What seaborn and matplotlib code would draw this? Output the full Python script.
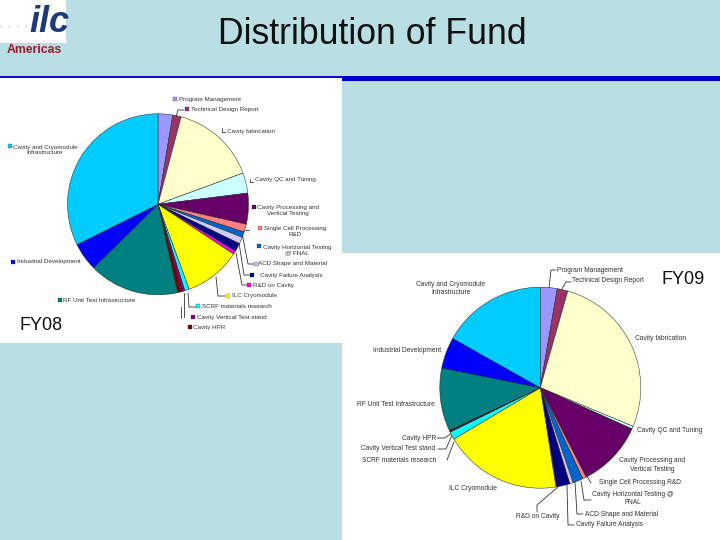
import matplotlib
matplotlib.use("Agg")
import matplotlib.pyplot as plt
from matplotlib.patches import Rectangle
import seaborn as sns

sns.set_theme(style="white")
plt.rcParams['font.family'] = ['Liberation Sans', 'DejaVu Sans']

categories08 = ["Program Management", "Technical Design Report", "Cavity fabrication",
                "Cavity QC and Tuning", "Cavity Processing and\nVertical Testing",
                "Single Cell Processing\nR&D", "Cavity Horizontal Testing\n@ FNAL",
                "ACD Shape and Material", "Cavity Failure Analysis", "R&D on Cavity",
                "ILC Cryomodule", "SCRF materials research", "Cavity Vertical Test stand",
                "Cavity HPR", "RF Unit Test Infrastructure", "Industrial Development",
                "Cavity and Cryomodule\nInfrastructure"]
categories09 = ["Program Management", "Technical Design Report", "Cavity fabrication",
                "Cavity QC and Tuning", "Cavity Processing and\nVertical Testing",
                "Single Cell Processing R&D", "Cavity Horizontal Testing @\nFNAL",
                "ACD Shape and Material", "Cavity Failure Analysis", "R&D on Cavity",
                "ILC Cryomodule", "SCRF materials research", "Cavity Vertical Test stand",
                "Cavity HPR", "RF Unit Test Infrastructure", "Industrial Development",
                "Cavity and Cryomodule\nInfrastructure"]
fy08 = [2.6, 1.5, 15.2, 3.6, 5.5, 1.4, 1.0, 1.2, 1.5, 0.6, 10.1, 0.8, 0.5, 0.8, 16.0, 5.0, 32.2]
fy09 = [2.7, 1.7, 26.8, 0.45, 10.7, 0.6, 1.65, 0.55, 2.15, 0.1, 18.9, 1.25, 0.1, 0.2, 10.1, 5.0, 16.8]
colors = ["#9999FF", "#993366", "#FFFFCC", "#CCFFFF", "#660066", "#FF8080", "#0066CC",
          "#CCCCFF", "#000080", "#FF00FF", "#FFFF00", "#00FFFF", "#800080", "#800000",
          "#008080", "#0000FF", "#00CCFF"]
palette = sns.color_palette(colors)

W, H = 720, 540
BG = "#B9DEE3"
fig = plt.figure(figsize=(W/100, H/100), dpi=100, facecolor=BG)
page = fig.add_axes([0, 0, 1, 1])
page.set_xlim(0, W); page.set_ylim(H, 0); page.axis("off")
page.add_patch(Rectangle((0, 78), 342, 265, fc="white", ec="none"))
page.add_patch(Rectangle((342, 252.5), 378, 288, fc="white", ec="none"))
page.add_patch(Rectangle((0, 0), 66, 43, fc="white", ec="none"))
page.add_patch(Rectangle((0, 76), 342, 2, fc="#0808C8", ec="none"))
page.add_patch(Rectangle((342, 76), 378, 5, fc="#0000D0", ec="none"))

page.text(372, 34.5, "Distribution of Fund", fontsize=25.7, color="#111111", ha="center", va="center")
page.text(34.5, 50, "Americas", fontsize=8.8, color="#A01828", ha="center", va="center", fontweight="bold")
page.text(49, 23, "ilc", fontsize=26, color="#1F3A78", ha="center", va="center",
          fontweight="bold", style="italic")
page.plot([0, 32], [25.5, 25.5], color="#C8C890", lw=1, ls=(0, (1, 5)))
page.text(41, 326, "FY08", fontsize=13, color="#111111", ha="center", va="center")
page.text(683, 279, "FY09", fontsize=13, color="#111111", ha="center", va="center")


def pie(values, cx, cy, r):
    ax = fig.add_axes([(cx - r) / W, 1 - (cy + r) / H, 2 * r / W, 2 * r / H])
    ax.pie(values, colors=palette, startangle=90, counterclock=False, radius=1,
           wedgeprops=dict(edgecolor="#222222", linewidth=0.35))
    ax.set_xlim(-1, 1); ax.set_ylim(-1, 1)
    ax.set_aspect("equal"); ax.axis("off")


pie(fy08, 158, 204.3, 90.5)
pie(fy09, 540.3, 387.7, 100.5)

LC = "#333333"
pos08 = [(179, 99, "left"), (191, 109, "left"), (227, 131, "left"), (255, 179, "left"),
         (288, 210.5, "center"), (295, 231.5, "center"), (297, 250, "center"),
         (258, 264, "left"), (260, 275, "left"), (253, 285, "left"), (232, 296, "left"),
         (202, 306, "left"), (197, 317, "left"), (193, 327, "left"),
         (63, 300, "left"), (17, 262, "left"), (45, 150, "center")]
sw08 = [(175, 99), (187, 109), None, None, (254, 207), (260, 228), (259, 246),
        (256, 264), (252, 275), (249, 285), (228, 296), (198, 306), (193, 317), (190, 327),
        (60, 300), (13, 262), (10, 146)]
for name, (x, y, ha), sw, c in zip(categories08, pos08, sw08, palette):
    page.text(x, y, name, fontsize=4.5, color="#333333", ha=ha, va="center", linespacing=1.2)
    if sw is not None:
        page.add_patch(Rectangle((sw[0] - 1.7, sw[1] - 1.7), 3.4, 3.4, fc=c, ec="#333333", lw=0.2))
lines08 = [[(176, 117), (178, 110), (184, 110)], [(222, 128), (222, 132), (225, 132)],
           [(250, 179), (250, 182), (253, 182)], [(245, 230), (249, 230)],
           [(242, 233), (248, 264), (254, 264)], [(239, 243), (244, 275), (250, 275)],
           [(236, 253), (242, 285), (247, 285)], [(216, 277), (218, 296), (225, 296)],
           [(188, 293), (189, 307), (196, 307)], [(184, 293), (184, 317)], [(181, 307), (181, 318)]]
for seg in lines08:
    page.plot(*zip(*seg), color=LC, lw=0.6)

pos09 = [(557, 270, "left"), (572, 281, "left"), (635, 339, "left"), (637, 430, "left"),
         (652, 465, "center"), (599, 483, "left"), (633, 498.5, "center"),
         (585, 514, "left"), (576, 525, "left"), (516, 517, "left"), (449, 488, "left"),
         (362, 461, "left"), (361, 449, "left"), (402, 438, "left"),
         (357, 405, "left"), (373, 351, "left"), (451, 288.5, "center")]
for name, (x, y, ha) in zip(categories09, pos09):
    page.text(x, y, name, fontsize=4.8, color="#333333", ha=ha, va="center", linespacing=1.25)
lines09 = [[(549, 288), (551, 270), (556, 270)], [(562, 289), (566, 282), (571, 282)],
           [(587, 476), (591, 483)], [(581, 481), (584, 500), (591, 500)],
           [(575, 482), (577, 514), (583, 514)], [(567, 485), (568, 525), (574, 525)],
           [(558, 487), (537, 505), (537, 512)],
           [(451, 433.5), (445, 438), (437, 438)], [(452, 435), (446, 449), (438, 449)],
           [(454, 442), (447, 460)]]
for seg in lines09:
    page.plot(*zip(*seg), color=LC, lw=0.6)

fig.savefig("out.png", dpi=100, facecolor=BG)
